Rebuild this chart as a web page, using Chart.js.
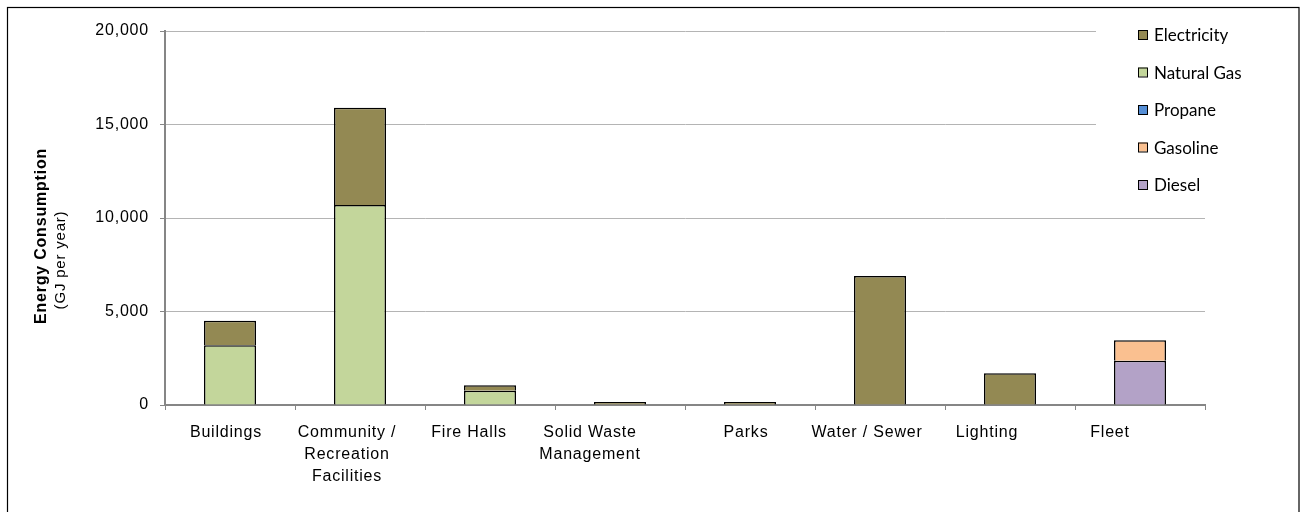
<!DOCTYPE html>
<html>
<head>
<meta charset="utf-8">
<script src="https://cdn.jsdelivr.net/npm/chart.js@4"></script>
<style>
    html, body { margin: 0; padding: 0; background: #fff; }
    #wrap { width: 1301px; height: 512px; position: relative; }
</style>
</head>
<body>
<div id="wrap"><canvas id="chart" width="1301" height="512"></canvas></div>
<script>
'use strict'

let categories = [
        'Buildings',
        ['Community /', 'Recreation', 'Facilities'],
        'Fire Halls',
        ['Solid Waste', 'Management'],
        'Parks',
        'Water / Sewer',
        'Lighting',
        'Fleet'],
    // GJ per year, null where a fuel is not used
    diesel = [null, null, null, null, null, null, null, 2370],
    gasoline = [null, null, null, null, null, null, null, 1090],
    propane = [null, null, null, null, null, null, null, null],
    naturalGas = [3200, 10700, 760, null, null, null, null, null],
    electricity = [1300, 5200, 290, 160, 160, 6900, 1700, null],
    yTicks = [0, 5000, 10000, 15000, 20000]

// category labels sit a little left of their bars
let labelShift = [-4, -13, -21, -30, -4, -13, -23, -30]

let fuels = [
    {label: 'Diesel', data: diesel, color: '#b3a2c7'},
    {label: 'Gasoline', data: gasoline, color: '#fac090'},
    {label: 'Propane', data: propane, color: '#558ed5'},
    {label: 'Natural Gas', data: naturalGas, color: '#c3d69b'},
    {label: 'Electricity', data: electricity, color: '#938953'}
]

let axisFont = '16px "Liberation Sans", Arial, sans-serif'

// outer frame round the whole figure, and the slightly spaced text look
let framePlugin = {
    id: 'frame',
    beforeDraw(chart) {
        let ctx = chart.ctx
        ctx.letterSpacing = '0.8px'
        ctx.save()
        ctx.strokeStyle = '#000'
        ctx.lineWidth = 1.2
        ctx.strokeRect(7.5, 7.5, 1291.5, 600)
        ctx.restore()
    }
}

// category names under the x axis
let xLabelPlugin = {
    id: 'xLabels',
    afterDraw(chart) {
        let ctx = chart.ctx,
            xs = chart.scales.x
        ctx.save()
        ctx.fillStyle = '#000'
        ctx.font = axisFont
        ctx.textAlign = 'center'
        ctx.textBaseline = 'middle'
        categories.forEach((c, i) => {
            let lines = Array.isArray(c) ? c : [c],
                x = xs.getPixelForValue(i) + labelShift[i]
            lines.forEach((t, j) => {
                ctx.fillText(t, x, 433 + j * 22)
            })
        })
        ctx.restore()
    }
}

// two-line axis title, bold first line
let yTitlePlugin = {
    id: 'yTitle',
    afterDraw(chart) {
        let ctx = chart.ctx
        ctx.save()
        ctx.fillStyle = '#000'
        ctx.textAlign = 'center'
        ctx.textBaseline = 'middle'
        ctx.translate(42, 236)
        ctx.rotate(-Math.PI / 2)
        ctx.font = 'bold 16px "Liberation Sans", Arial, sans-serif'
        ctx.fillText('Energy Consumption', 0, 0)
        ctx.restore()

        ctx.save()
        ctx.fillStyle = '#000'
        ctx.textAlign = 'center'
        ctx.textBaseline = 'middle'
        ctx.translate(61, 260)
        ctx.rotate(-Math.PI / 2)
        ctx.font = '15px "Liberation Sans", Arial, sans-serif'
        ctx.fillText('(GJ per year)', 0, 0)
        ctx.restore()
    }
}

// legend box sitting over the top right of the plot
let legendPlugin = {
    id: 'sideLegend',
    afterDraw(chart) {
        let ctx = chart.ctx
        ctx.save()
        ctx.letterSpacing = '0px'
        ctx.fillStyle = '#fff'
        ctx.fillRect(1096, 14, 200, 192)
        ctx.font = '17px Lato, "Open Sans", sans-serif'
        ctx.textBaseline = 'middle'
        let items = chart.data.datasets.slice().reverse()
        items.forEach((ds, i) => {
            let y = 35 + i * 37.5
            ctx.fillStyle = ds.backgroundColor
            ctx.fillRect(1138, y - 5, 9, 9)
            ctx.strokeStyle = '#000'
            ctx.lineWidth = 1
            ctx.strokeRect(1138.5, y - 4.5, 9, 9)
            ctx.fillStyle = '#000'
            ctx.fillText(ds.label, 1154, y + 1)
        })
        ctx.restore()
    }
}

let data = {
    labels: categories,
    datasets: fuels.map(f => ({
        label: f.label,
        data: f.data,
        backgroundColor: f.color,
        borderColor: '#000',
        borderWidth: 1.5,
        borderSkipped: 'start',
        categoryPercentage: 1,
        barPercentage: 0.4
    }))
}

let config = {
    type: 'bar',
    data: data,
    options: {
        responsive: false,
        animation: false,
        layout: {padding: {left: 0, top: 31, right: 96, bottom: 0}},
        plugins: {
            legend: {display: false},
            tooltip: {enabled: false}
        },
        scales: {
            x: {
                stacked: true,
                afterFit: s => { s.height = 107 },
                grid: {
                    offset: true,
                    drawOnChartArea: false,
                    drawTicks: true,
                    tickLength: 5,
                    color: '#868686'
                },
                border: {display: true, color: '#868686', width: 2},
                ticks: {display: false}
            },
            y: {
                stacked: true,
                min: 0,
                max: 20000,
                afterFit: s => { s.width = 165 },
                afterBuildTicks: s => { s.ticks = yTicks.map(v => ({value: v})) },
                grid: {
                    color: '#b4b4b4',
                    lineWidth: 1,
                    drawTicks: true,
                    tickLength: 5,
                    tickColor: '#868686'
                },
                border: {display: true, color: '#868686', width: 2},
                ticks: {
                    color: '#000',
                    padding: 11,
                    font: {family: '"Liberation Sans", Arial, sans-serif', size: 16},
                    callback: v => v.toLocaleString('en-US')
                }
            }
        }
    },
    plugins: [framePlugin, xLabelPlugin, yTitlePlugin, legendPlugin]
}

let myChart = new Chart(document.getElementById('chart'), config)
</script>
</body>
</html>
